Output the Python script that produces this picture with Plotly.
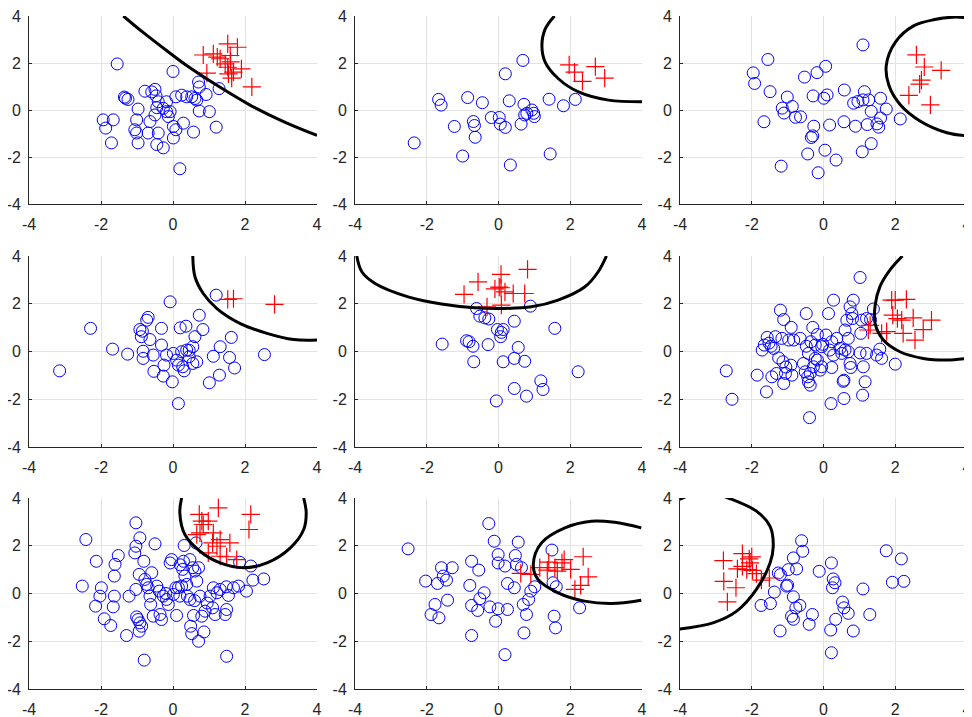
import plotly.graph_objects as go

# ---------------- data ----------------
tick_vals = [-4, -2, 0, 2, 4]
tick_text = ["-4", "-2", "0", "2", "4"]

blue1 = [(-1.55,1.96),(0.00,1.64),(-1.94,-0.42),(-1.87,-0.77),(-1.66,-0.42),(-1.71,-1.40),(-1.32,0.50),(-1.25,0.45),
         (-1.35,0.55),(-0.97,0.04),(-1.01,-0.42),(-1.06,-0.84),(-1.01,-0.98),(-0.97,-1.40),(-0.78,0.80),(-0.59,0.77),
         (-0.50,0.88),(-0.47,0.60),(-0.69,-0.98),(-0.64,-0.49),(-0.50,-0.21),(-0.45,0.10),(-0.41,0.35),(-0.27,0.07),
         (-0.18,0.35),(-0.18,-0.07),(-0.08,-0.07),(-0.13,-0.28),(-0.41,-0.98),(-0.45,-1.47),(-0.27,-1.61),(0.01,-0.70),
         (0.08,-0.84),(0.01,-1.19),(0.29,-0.56),(0.19,-2.50),(0.08,0.56),(0.24,0.63),(0.38,0.56),(0.52,0.56),
         (0.61,0.49),(0.66,0.42),(0.71,1.19),(0.73,0.98),(0.92,0.66),(0.73,-0.04),(1.01,-0.07),(1.20,-0.73),
         (0.57,-0.94),(1.28,0.91)]
red1 = [(0.84,2.34),(1.12,2.39),(1.23,2.25),(1.31,2.18),(1.52,2.81),(1.79,2.67),(1.59,2.32),(1.45,1.96),
        (1.52,1.82),(1.90,1.75),(1.68,1.61),(1.54,1.54),(1.63,1.36),(0.94,1.57),(2.19,0.98),(1.60,2.05)]
curve1 = [(-1.38,4.0),(-0.83,3.30),(-0.18,2.53),(0.38,1.89),(1.22,1.05),(2.14,0.21),(3.07,-0.49),(4.0,-1.08)]

blue2 = [(-2.35,-1.40),(-1.67,0.45),(-1.60,0.21),(-0.86,0.53),(-0.45,0.31),(-1.23,-0.70),(-0.70,-0.49),(-0.67,-0.66),
         (-0.65,-1.16),(-1.00,-1.96),(-0.20,-0.32),(0.02,-0.32),(0.05,-0.60),(0.19,-0.74),(0.19,1.54),(0.68,2.11),
         (0.30,0.39),(0.71,0.24),(0.79,-0.14),(0.63,-0.60),(0.93,0.00),(0.98,-0.14),(1.00,-0.28),(1.41,0.46),
         (1.81,0.18),(2.14,0.45),(1.44,-1.87),(0.33,-2.34),(0.73,-0.21)]
red2 = [(1.97,1.92),(2.12,1.61),(2.34,1.22),(2.70,1.85),(2.96,1.36)]
curve2 = [(1.56,4.0),(1.30,3.44),(1.21,2.74),(1.30,2.04),(1.67,1.33),(2.23,0.77),(3.07,0.42),(4.0,0.35)]

blue3 = [(-1.96,1.58),(-1.92,1.13),(-1.55,2.15),(-1.49,0.78),(-1.66,-0.50),(-1.01,0.55),(-1.15,0.08),(-1.10,-0.13),
         (-0.87,0.15),(-0.78,-0.31),(-0.64,-0.29),(-1.18,-2.39),(-0.53,1.40),(-0.18,1.59),(0.06,1.86),(-0.29,0.60),
         (0.01,0.50),(0.10,0.64),(-0.27,-0.69),(-0.34,-1.17),(-0.30,-1.10),(-0.44,-1.87),(0.04,-1.71),(0.35,-2.13),
         (-0.15,-2.67),(0.17,-0.64),(0.58,0.85),(0.57,-0.50),(0.89,-0.69),(0.84,0.29),(0.96,0.36),(1.10,0.43),
         (1.14,0.78),(1.26,0.43),(1.33,-0.06),(1.22,-0.62),(1.49,-0.59),(1.54,-0.73),(1.59,0.50),(1.75,0.04),
         (1.59,-0.34),(2.14,-0.38),(1.33,-1.43),(1.08,-1.78),(1.10,2.77)]
red3 = [(2.59,2.35),(2.81,1.83),(3.28,1.69),(2.73,1.27),(2.68,1.10),(2.38,0.62),(2.98,0.22)]
curve3 = [(4.0,3.93),(3.60,3.95),(3.10,3.85),(2.51,3.58),(2.00,2.88),(1.75,1.90),(1.82,1.06),(2.14,0.22),
          (2.70,-0.48),(3.44,-0.97),(4.0,-1.10)]

blue4 = [(-3.15,-0.81),(-2.29,0.97),(-1.68,0.10),(-1.26,-0.11),(-0.92,0.92),(-0.73,1.31),(-0.69,1.43),(-0.88,0.62),
         (-0.64,0.50),(-0.83,0.01),(-0.83,-0.29),(-0.55,-0.15),(-0.32,0.97),(-0.32,0.27),(-0.53,-0.83),(-0.27,-1.03),
         (-0.18,-0.15),(-0.25,-0.57),(-0.08,2.08),(-0.02,-1.27),(0.15,-2.18),(0.20,0.99),(0.36,1.06),(0.01,-0.08),
         (0.10,-0.36),(0.15,-0.57),(0.27,-0.64),(0.31,-0.81),(0.24,-0.01),(0.38,0.06),(0.45,-0.22),(0.55,0.20),
         (0.61,0.62),(0.55,-0.50),(0.66,-0.43),(0.73,1.52),(0.83,0.92),(1.12,-0.20),(1.01,-1.31),(1.29,-0.99),
         (1.31,0.20),(1.57,-0.25),(1.62,0.59),(1.71,-0.69),(1.20,2.36),(2.54,-0.13),(-0.85,0.85),(0.45,0.05)]
red4 = [(1.52,2.18),(1.68,2.21),(2.82,1.97)]
curve4 = [(0.55,4.0),(0.61,3.13),(0.84,2.43),(1.22,1.80),(1.87,1.17),(2.61,0.76),(3.35,0.50),(4.0,0.48)]

blue5 = [(-1.57,0.31),(-0.89,0.45),(-0.82,0.41),(-0.71,0.22),(-0.69,-0.43),(-0.61,1.80),(-0.52,1.48),(-0.38,1.41),
         (-0.27,1.36),(-0.29,0.29),(-0.03,0.92),(0.13,0.92),(0.06,0.62),(0.44,1.27),(0.13,-0.43),(0.44,-0.29),
         (0.55,0.17),(0.73,-0.41),(0.89,1.90),(1.57,0.97),(1.18,-1.23),(1.24,-1.59),(0.44,-1.55),(0.78,-1.87),
         (-0.06,-2.07),(2.22,-0.85),(0.08,0.80)]
red5 = [(-0.96,2.39),(-0.57,2.92),(-0.32,1.87),(-0.10,2.62),(0.07,3.23),(0.07,2.67),(0.18,2.50),(0.41,2.43),
        (0.73,2.43),(0.81,3.44),(0.08,1.94),(0.02,2.70)]
curve5 = [(-3.95,4.0),(-3.81,3.34),(-3.44,2.85),(-2.52,2.29),(-1.59,1.99),(-0.66,1.83),(0.08,1.80),(0.92,1.87),
          (1.66,2.15),(2.41,2.71),(2.78,3.34),(3.01,4.0)]

blue6 = [(-2.71,-0.81),(-2.55,-2.00),(-1.85,-0.99),(-1.59,-1.69),(-1.71,0.06),(-1.65,0.27),(-1.57,0.59),(-1.46,0.22),
         (-1.39,0.13),(-1.34,0.62),(-1.20,1.73),(-1.11,1.34),(-0.90,1.01),(-1.16,0.55),(-1.25,-0.27),(-1.13,-0.43),
         (-1.44,-1.06),(-1.31,-0.92),(-1.11,-1.34),(-1.06,-0.92),(-0.88,-0.99),(-0.91,-0.57),(-0.97,0.48),(-0.83,0.48),
         (-0.65,0.55),(-0.48,1.59),(-0.30,1.01),(-0.35,0.41),(-0.48,0.22),(-0.56,-0.50),(-0.42,-0.08),(-0.51,-0.85),
         (-0.37,-0.92),(-0.44,-1.06),(-0.42,-1.27),(-0.37,-1.41),(-0.39,-2.77),(-0.23,-0.29),(-0.17,-0.36),(-0.09,-0.78),
         (-0.05,-0.64),(-0.28,-0.64),(-0.17,0.71),(-0.05,0.20),(0.07,0.69),(0.14,1.59),(0.23,0.41),(0.17,0.06),
         (0.28,2.15),(0.37,0.55),(0.28,-0.15),(0.23,-0.67),(0.21,-2.18),(0.46,0.13),(0.51,-0.08),(0.60,0.06),
         (0.69,-0.01),(0.57,-1.20),(0.57,-1.97),(0.60,0.90),(0.65,1.31),(0.74,-0.50),(0.76,-0.67),(0.69,0.55),
         (0.74,1.87),(0.83,2.15),(0.79,1.59),(1.02,3.10),(0.81,1.38),(1.04,0.76),(1.06,1.31),(1.02,-0.06),
         (1.11,-0.64),(1.20,-0.08),(1.16,-1.27),(1.09,-1.83),(1.20,1.38),(1.31,1.34),(1.39,1.78),(1.48,-0.15),
         (1.57,0.10),(1.62,-0.29),(2.00,-0.53),(-0.23,0.27),(-0.02,0.30),(0.55,-1.25),(-1.52,0.35),(-1.05,-0.65)]
red6 = [(1.90,2.15),(2.00,2.15),(2.31,2.18),(1.93,1.52),(2.06,1.38),(2.18,1.31),(2.50,1.41),(3.01,1.31),
        (2.78,0.92),(2.55,0.48),(2.22,0.76),(1.76,0.83),(1.62,0.76),(1.25,0.90),(1.30,1.10)]
curve6 = [(2.20,4.0),(1.85,3.41),(1.57,2.71),(1.44,1.94),(1.44,1.17),(1.67,0.48),(2.13,-0.01),(2.78,-0.29),
          (3.43,-0.36),(3.98,-0.29)]

blue7 = [(-2.42,2.26),(-2.52,0.31),(-2.13,1.35),(-2.15,-0.53),(-2.03,-0.11),(-1.99,0.24),(-1.91,-1.06),(-1.73,-1.34),
         (-1.63,0.73),(-1.61,1.22),(-1.52,1.59),(-1.63,-0.11),(-1.66,-0.56),(-1.29,-1.76),(-1.22,-0.11),(-1.03,2.96),
         (-0.92,2.33),(-1.06,1.70),(-1.03,1.98),(-0.81,1.35),(-0.94,0.80),(-1.03,0.17),(-1.01,-0.98),(-0.97,-1.09),
         (-0.92,-1.23),(-0.87,-1.37),(-0.94,-1.58),(-0.80,-2.79),(-0.78,0.59),(-0.73,0.38),(-0.69,0.24),(-0.59,0.87),
         (-0.64,-0.11),(-0.62,-0.46),(-0.50,2.08),(-0.45,0.31),(-0.38,0.10),(-0.27,-0.11),(-0.36,-0.88),(-0.32,-1.09),
         (-0.18,-0.25),(-0.13,-0.46),(-0.08,1.28),(-0.04,1.42),(0.08,0.24),(0.01,-0.04),(0.10,-0.92),(0.19,-0.11),
         (0.24,0.31),(0.31,2.01),(0.29,1.35),(0.27,1.01),(0.33,0.73),(0.38,0.38),(0.40,-0.11),(0.47,-0.25),
         (0.47,1.42),(0.55,1.08),(0.61,0.94),(0.71,1.08),(0.66,0.52),(0.64,2.12),(0.57,-0.92),(0.49,-1.37),
         (0.52,-1.68),(0.71,-2.00),(0.86,-1.61),(0.75,-0.11),(0.80,-0.95),(0.89,-0.74),(1.03,-0.11),(1.12,0.24),
         (1.22,0.03),(1.10,-0.60),(1.17,-0.88),(1.31,0.17),(1.48,0.28),(1.49,-0.67),(1.45,-0.88),(1.54,-0.08),
         (1.49,-2.63),(1.68,0.24),(1.82,0.31),(2.04,0.10),(1.85,1.31),(2.16,1.15),(2.22,0.56),(2.52,0.61),
         (-0.20,0.00),(0.15,0.25),(0.60,-0.30),(0.95,-0.40),(-0.55,-0.95),(0.20,1.20)]
red7 = [(0.73,3.31),(1.26,3.59),(2.16,3.31),(0.80,3.03),(0.98,3.03),(0.84,2.89),(0.66,2.47),(0.75,2.54),
        (1.12,2.54),(1.31,2.26),(1.10,2.12),(1.58,2.12),(2.11,2.68),(0.98,1.70),(1.31,1.56),(1.49,1.54),
        (1.77,1.42),(1.22,1.98)]
curve7 = [(0.24,4.0),(0.19,3.38),(0.33,2.47),(0.75,1.77),(1.31,1.28),(1.96,1.08),(2.61,1.28),(3.26,1.91),
          (3.63,2.68),(3.70,3.38),(3.63,4.0)]

blue8 = [(-2.52,1.87),(-2.03,0.52),(-1.88,-0.88),(-1.77,-0.46),(-1.70,0.42),(-1.66,-1.02),(-1.59,1.08),(-1.54,0.73),
         (-1.45,0.56),(-1.42,-0.28),(-1.29,1.08),(-0.80,0.34),(-0.75,1.35),(-0.75,-0.50),(-0.75,-1.76),(-0.55,0.98),
         (-0.58,-0.71),(-0.52,-0.22),(-0.40,0.03),(-0.27,2.93),(-0.24,-0.56),(-0.12,2.19),(-0.01,1.63),(-0.01,1.28),
         (-0.01,-0.64),(-0.08,-1.16),(0.18,1.15),(0.25,-0.67),(0.25,0.42),(0.44,0.24),(0.18,-2.56),(0.55,2.15),
         (0.47,1.59),(0.50,1.22),(0.64,1.08),(0.69,-0.46),(0.71,-1.65),(0.78,-0.88),(0.84,-0.25),(0.90,0.10),
         (1.01,0.28),(1.49,1.82),(1.52,0.45),(1.61,0.28),(1.55,-0.95),(1.59,-1.44),(2.26,-0.60)]
red8 = [(0.62,0.84),(0.90,0.80),(1.15,1.08),(1.40,1.31),(1.36,0.98),(1.57,1.08),(1.64,0.94),(1.77,1.28),
        (1.83,1.42),(2.01,1.01),(2.36,1.54),(2.50,0.70),(2.29,0.34),(2.13,0.17)]
curve8 = [(3.98,-0.28),(3.15,-0.42),(2.40,-0.32),(1.66,0.03),(1.10,0.59),(0.97,1.22),(1.20,2.12),(1.85,2.75),
          (2.59,3.03),(3.24,2.98),(3.98,2.75)]

blue9 = [(-1.74,-0.50),(-1.48,-0.42),(-1.37,0.06),(-1.26,0.86),(-1.20,0.79),(-1.21,-1.57),(-1.03,0.31),(-0.98,1.00),
         (-0.84,1.49),(-0.75,1.03),(-0.61,2.21),(-0.58,1.77),(-0.84,-0.14),(-0.77,-0.60),(-0.66,-0.50),(-0.89,-0.95),
         (-0.84,-1.08),(-0.31,-0.88),(-0.40,-1.29),(-0.12,0.93),(0.22,1.28),(0.27,0.61),(0.32,0.45),(0.25,0.24),
         (0.20,-1.53),(0.34,-1.08),(0.22,-2.48),(0.53,-0.36),(0.57,-0.60),(0.69,-0.83),(0.83,-1.57),(1.10,0.19),
         (1.29,-0.88),(1.75,1.79),(2.17,1.45),(1.92,0.47),(2.24,0.51),(-1.00,0.35)]
red9 = [(-2.79,1.38),(-2.78,0.51),(-2.68,-0.35),(-2.44,0.24),(-2.26,1.67),(-2.40,1.03),(-2.26,1.14),(-2.07,1.45),
        (-2.00,1.53),(-2.14,1.00),(-1.98,0.97),(-1.87,0.83),(-1.73,0.56),(-1.51,0.65),(-2.05,1.28)]
# None marks where the boundary leaves the plotted area and re-enters it
curve9 = [(-4.05,-1.50),(-3.06,-1.22),(-2.42,-0.74),(-1.87,0.17),(-1.49,1.28),(-1.40,1.98),(-1.49,2.81),
          (-1.86,3.44),(-2.65,4.0),(-2.85,4.1),(None,None),(-4.05,3.92),(-3.85,4.05)]

panels = [(blue1, red1, curve1), (blue2, red2, curve2), (blue3, red3, curve3),
          (blue4, red4, curve4), (blue5, red5, curve5), (blue6, red6, curve6),
          (blue7, red7, curve7), (blue8, red8, curve8), (blue9, red9, curve9)]

# ---------------- layout geometry ----------------
# The page body has an 8px margin, so the figure is drawn 8px in from the
# window's top-left corner; sizes and positions are given in window pixels.
PAGE_OFF = 8
W, H = 972 - PAGE_OFF, 717 - PAGE_OFF
col_px = [(29, 317), (355, 642), (680, 967)]
row_px = [(16, 204), (256, 447), (498, 689)]

fig = go.Figure()
axis_font = dict(family="Liberation Sans, Arial, sans-serif", size=16, color="#262626")

for i, (blue, red, curve) in enumerate(panels):
    r, c = divmod(i, 3)
    n = i + 1
    xa = "x" if n == 1 else f"x{n}"
    ya = "y" if n == 1 else f"y{n}"
    fig.add_trace(go.Scatter(
        x=[p[0] for p in blue], y=[p[1] for p in blue], mode="markers",
        marker=dict(symbol="circle-open", size=12, color="#0000ff", line=dict(width=1, color="#0000ff")),
        xaxis=xa, yaxis=ya, showlegend=False, hoverinfo="skip"))
    fig.add_trace(go.Scatter(
        x=[p[0] for p in red], y=[p[1] for p in red], mode="markers",
        marker=dict(symbol="cross-thin-open", size=13, color="#ff0000", line=dict(width=1.2, color="#ff0000")),
        xaxis=xa, yaxis=ya, showlegend=False, hoverinfo="skip"))
    fig.add_trace(go.Scatter(
        x=[p[0] for p in curve], y=[p[1] for p in curve], mode="lines", connectgaps=False,
        line=dict(color="black", width=3, shape="spline", smoothing=1.0),
        xaxis=xa, yaxis=ya, showlegend=False, hoverinfo="skip"))

    x0, x1 = [v - PAGE_OFF for v in col_px[c]]
    y0, y1 = [v - PAGE_OFF for v in row_px[r]]
    common = dict(range=[-4, 4], tickmode="array", tickvals=tick_vals, ticktext=tick_text,
                  showgrid=True, gridcolor="#e3e3e3", gridwidth=1, zeroline=False,
                  showline=True, linecolor="#262626", linewidth=1, ticks="inside", ticklen=3,
                  tickcolor="#262626", tickfont=axis_font, fixedrange=True, automargin=False,
                  ticklabeloverflow="allow")
    xkey = "xaxis" if n == 1 else f"xaxis{n}"
    ykey = "yaxis" if n == 1 else f"yaxis{n}"
    fig.update_layout(**{
        xkey: dict(domain=[x0 / W, x1 / W], anchor=ya, ticklabelstandoff=6, **common),
        ykey: dict(domain=[1 - y1 / H, 1 - y0 / H], anchor=xa, ticklabelstandoff=4, **common),
    })

fig.update_layout(width=W, height=H, margin=dict(l=0, r=0, t=0, b=0, autoexpand=False),
                  paper_bgcolor="white", plot_bgcolor="white")
fig.write_html("out.html")
